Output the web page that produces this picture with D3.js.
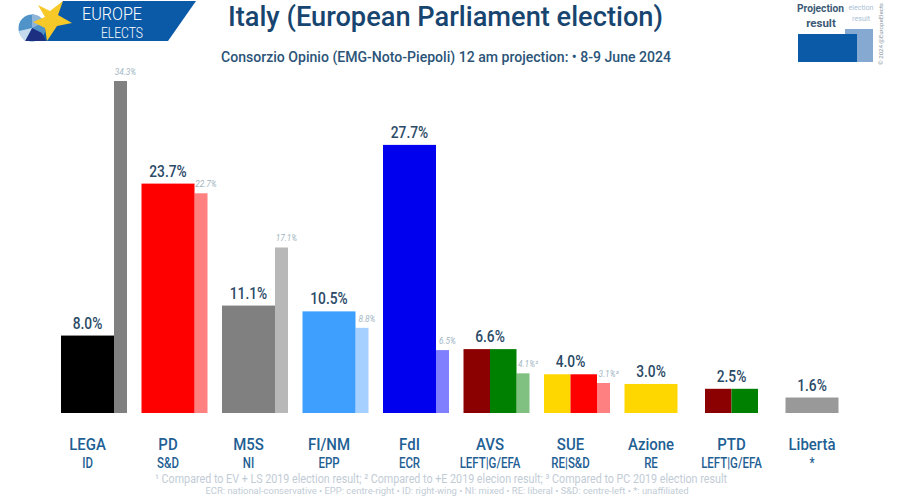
<!DOCTYPE html>
<html>
<head>
<meta charset="utf-8">
<script src="https://cdn.jsdelivr.net/npm/d3@7"></script>
<style>
  html, body { margin: 0; padding: 0; background: #fff; }
  text { font-family: "Roboto", "DejaVu Sans", sans-serif; }
</style>
</head>
<body>
<div id="chart"></div>
<script>
var parties = ["LEGA", "PD", "M5S", "FI/NM", "FdI", "AVS", "SUE", "Azione", "PTD", "Libertà"];
var groups = ["ID", "S&D", "NI", "EPP", "ECR", "LEFT|G/EFA", "RE|S&D", "RE", "LEFT|G/EFA", "*"];
var projection = [8.0, 23.7, 11.1, 10.5, 27.7, 6.6, 4.0, 3.0, 2.5, 1.6];
var previous = [34.3, 22.7, 17.1, 8.8, 6.5, 4.1, 3.1, null, null, null];
var previousLabels = ["34.3%", "22.7%", "17.1%", "8.8%", "6.5%", "4.1%²", "3.1%³", "", "", ""];
var projectionLabels = ["8.0%", "23.7%", "11.1%", "10.5%", "27.7%", "6.6%", "4.0%", "3.0%", "2.5%", "1.6%"];
var barColors = [
    ["#000000"], ["#ff0000"], ["#808080"], ["#3f9fff"], ["#0000ee"],
    ["#8b0000", "#008000"], ["#ffd700", "#ff0000"], ["#ffd700"], ["#8b0000", "#008000"], ["#999999"]
];
var previousColors = ["#808080", "#ff8080", "#b8b8b8", "#a6d0ff", "#8080ff", "#80c080", "#ff8080", null, null, null];

var svg = d3.select("#chart").append("svg").attr("width", 900).attr("height", 500);

var xScale = d3.scaleBand().domain(parties).range([61, 838.5]).paddingInner(0.3416).paddingOuter(0);
var yScale = d3.scaleLinear().domain([0, 34.3]).range([413, 81]);
var barW = xScale.bandwidth();
var prevW = 13;

// Roboto is wider than the original font, so squeeze the text
function squeeze(sel, factor) {
    sel.each(function() {
        var len = this.getComputedTextLength();
        if (len > 0) {
            d3.select(this).attr("textLength", len * factor).attr("lengthAdjust", "spacingAndGlyphs");
        }
    });
    return sel;
}
function fit(sel, width) {
    return sel.attr("textLength", width).attr("lengthAdjust", "spacingAndGlyphs");
}

// previous election bars go behind
svg.selectAll(".prev").data(parties).enter().append("rect")
    .filter(function(d, i) { return previous[i] !== null; })
    .attr("class", "prev")
    .attr("x", function(d) { return xScale(d) + barW; })
    .attr("width", prevW)
    .attr("y", function(d) { return yScale(previous[parties.indexOf(d)]); })
    .attr("height", function(d) { return 413 - yScale(previous[parties.indexOf(d)]); })
    .attr("fill", function(d) { return previousColors[parties.indexOf(d)]; });

// projection bars, split when a list has two colours
parties.forEach(function(p, i) {
    var cols = barColors[i];
    var segW = barW / cols.length;
    cols.forEach(function(c, j) {
        svg.append("rect")
            .attr("x", xScale(p) + j * segW)
            .attr("width", segW)
            .attr("y", yScale(projection[i]))
            .attr("height", yScale(0) - yScale(projection[i]))
            .attr("fill", c);
    });
});

var vals = svg.selectAll(".val").data(parties).enter().append("text")
    .attr("class", "val")
    .attr("x", function(d) { return xScale(d) + barW / 2; })
    .attr("y", function(d, i) { return yScale(projection[i]) - 7; })
    .attr("text-anchor", "middle")
    .attr("font-size", 16)
    .attr("font-weight", 500)
    .attr("fill", "#2b4a66")
    .text(function(d, i) { return projectionLabels[i]; });
squeeze(vals, 0.86);

var prevVals = svg.selectAll(".prevval").data(parties).enter().append("text")
    .attr("class", "prevval")
    .attr("x", function(d) { return xScale(d) + barW + prevW / 2 + 5; })
    .attr("y", function(d, i) { return previous[i] === null ? 0 : yScale(previous[i]) - 6; })
    .attr("text-anchor", "middle")
    .attr("font-size", 9)
    .attr("font-style", "italic")
    .attr("fill", "#a3b6c4")
    .text(function(d, i) { return previousLabels[i]; });
squeeze(prevVals, 0.92);

// party names and groups
var nameAxis = d3.axisBottom(xScale).tickSize(0);
var names = svg.append("g").attr("transform", "translate(0,435)").call(nameAxis);
names.select(".domain").remove();
names.selectAll("text")
    .attr("font-size", 17)
    .attr("font-family", "Roboto, sans-serif")
    .attr("font-weight", 500)
    .attr("fill", "#1f5f94");
squeeze(names.selectAll("text"), 0.88);

var grps = svg.selectAll(".grp").data(parties).enter().append("text")
    .attr("class", "grp")
    .attr("x", function(d) { return xScale(d) + barW / 2; })
    .attr("y", 468)
    .attr("text-anchor", "middle")
    .attr("font-size", 14)
    .attr("font-weight", 500)
    .attr("fill", "#1f5f94")
    .text(function(d, i) { return groups[i]; });
squeeze(grps, 0.82);

// titles
fit(svg.append("text").attr("x", 445.5).attr("y", 26).attr("text-anchor", "middle")
    .attr("font-size", 27.5).attr("font-weight", 500).attr("fill", "#17456f")
    .text("Italy (European Parliament election)"), 435);
fit(svg.append("text").attr("x", 446).attr("y", 62).attr("text-anchor", "middle")
    .attr("font-size", 15).attr("font-weight", 500).attr("fill", "#2b5478")
    .text("Consorzio Opinio (EMG-Noto-Piepoli) 12 am projection: • 8-9 June 2024"), 450);

// footnotes
fit(svg.append("text").attr("x", 441).attr("y", 483).attr("text-anchor", "middle")
    .attr("font-size", 12).attr("fill", "#c2ccd6")
    .text("¹ Compared to EV + LS 2019 election result; ² Compared to +E 2019 elecion result; ³ Compared to PC 2019 election result"), 572);
fit(svg.append("text").attr("x", 447).attr("y", 494).attr("text-anchor", "middle")
    .attr("font-size", 9.5).attr("fill", "#c2ccd6")
    .text("ECR: national-conservative • EPP: centre-right • ID: right-wing • NI: mixed • RE: liberal • S&D: centre-left • *: unaffiliated"), 483);

// logo
var logo = svg.append("g");
logo.append("path").attr("d", "M63 1 L196 1 L168 41 L25 41 Z").attr("fill", "#0b5aa8");
logo.append("circle").attr("cx", 32).attr("cy", 28).attr("r", 13.5).attr("fill", "#4f93c8");
logo.append("path").attr("d", "M32 28 L25 41 L46 41 L42 33 Z").attr("fill", "#1d2f80");
logo.append("path").attr("d", "M32 28 L19 31 Q20 37 25 41 Z").attr("fill", "#c6dcee");
logo.append("path").attr("d", "M32 28 L32 14 Q40 15 44 22 Z").attr("fill", "#8fb6d8");
logo.append("path").attr("d", "M63 1 L58 15 L72 23 L57 26 L47 41 L45 28 L33 22 L45 17 L38 5 L50 11 Z").attr("fill", "#f7c928");
fit(logo.append("text").attr("x", 82).attr("y", 19.5).attr("font-size", 18).attr("font-weight", 300).attr("fill", "#fff").text("EUROPE"), 60);
fit(logo.append("text").attr("x", 101).attr("y", 37.5).attr("font-size", 14).attr("font-weight", 300).attr("fill", "#fff").text("ELECTS"), 42);

// legend
var legend = svg.append("g");
legend.append("rect").attr("x", 845).attr("y", 29).attr("width", 28).attr("height", 33).attr("fill", "#86a9d2");
legend.append("rect").attr("x", 798).attr("y", 34).attr("width", 59).attr("height", 28).attr("fill", "#0b5aa8");
fit(legend.append("text").attr("x", 820.5).attr("y", 12).attr("text-anchor", "middle").attr("font-size", 10.5).attr("font-weight", "bold").attr("fill", "#3b5a75").text("Projection"), 47);
legend.append("text").attr("x", 821).attr("y", 27).attr("text-anchor", "middle").attr("font-size", 11.5).attr("font-weight", "bold").attr("fill", "#3b5a75").text("result");
fit(legend.append("text").attr("x", 861).attr("y", 10).attr("text-anchor", "middle").attr("font-size", 7.5).attr("fill", "#a9c0d6").text("election"), 25);
fit(legend.append("text").attr("x", 861).attr("y", 21).attr("text-anchor", "middle").attr("font-size", 7.5).attr("fill", "#a9c0d6").text("result"), 18);
fit(legend.append("text").attr("transform", "translate(883,65) rotate(-90)").attr("font-size", 6.2).attr("fill", "#8a98a4").text("© 2024 @EuropeElects"), 62);
</script>
</body>
</html>
